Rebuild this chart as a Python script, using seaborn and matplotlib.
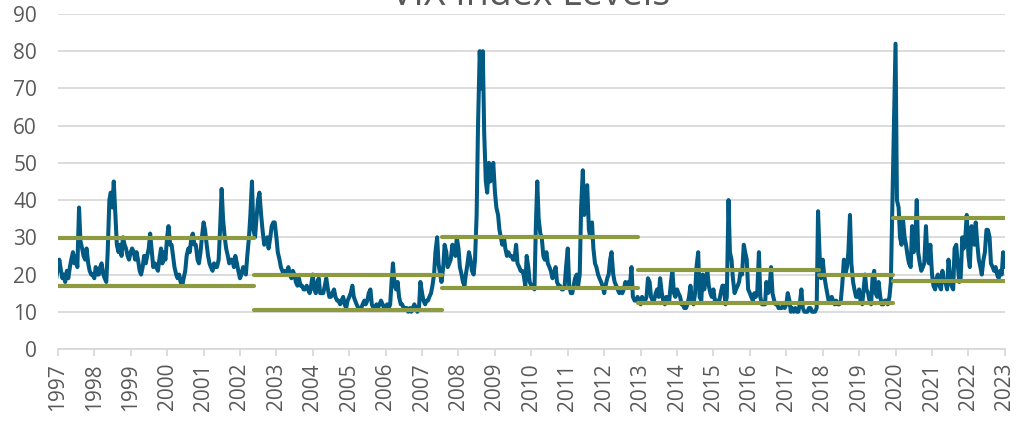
import pandas as pd
import seaborn as sns
import matplotlib.pyplot as plt

# semi-monthly VIX readings, one row per 24 readings.
# the chart's own timeline runs about 2.5 months ahead of the calendar,
# so the series is placed from mid-Oct 1996 to line up with its year ticks
vix_start = "1996-10-15"
vix_rows = [
    [21, 19, 20, 18, 19, 22, 24, 21, 19, 20, 18, 21, 19, 22, 24, 26, 23, 25, 22, 38, 29, 27, 25, 24],
    [27, 23, 21, 20, 20, 19, 22, 20, 20, 22, 23, 20, 19, 18, 26, 40, 42, 38, 45, 36, 28, 26, 28, 25],
    [30, 28, 27, 25, 24, 26, 27, 26, 24, 26, 24, 21, 20, 22, 25, 23, 25, 27, 31, 26, 22, 23, 22, 21],
    [24, 27, 23, 26, 24, 30, 33, 28, 28, 25, 22, 20, 19, 20, 18, 17, 19, 21, 25, 27, 26, 30, 31, 28],
    [28, 24, 23, 26, 30, 34, 32, 28, 25, 23, 22, 21, 23, 22, 22, 24, 32, 43, 35, 30, 27, 25, 23, 24],
    [24, 22, 25, 23, 21, 19, 20, 22, 21, 20, 25, 30, 36, 45, 32, 30, 35, 40, 42, 36, 32, 28, 29, 30],
    [27, 30, 33, 34, 34, 30, 26, 24, 22, 21, 20, 21, 20, 22, 20, 19, 21, 20, 18, 17, 19, 17, 17, 16],
    [16, 17, 16, 15, 17, 20, 16, 15, 18, 19, 15, 15, 15, 17, 19, 16, 14, 14, 15, 16, 14, 13, 13, 12],
    [13, 14, 12, 11, 13, 14, 15, 17, 14, 13, 12, 11, 11, 11, 12, 13, 12, 13, 15, 16, 12, 11, 11, 12],
    [11, 12, 13, 12, 11, 11, 12, 11, 12, 18, 23, 17, 16, 18, 14, 12, 12, 11, 11, 11, 10, 11, 10, 11],
    [12, 11, 10, 11, 18, 15, 13, 12, 13, 13, 14, 15, 17, 20, 26, 30, 23, 20, 18, 22, 28, 26, 22, 23],
    [24, 28, 26, 25, 30, 27, 22, 20, 18, 17, 20, 23, 26, 24, 21, 20, 24, 36, 60, 80, 70, 80, 58, 45],
    [42, 50, 45, 47, 50, 42, 38, 36, 32, 30, 28, 30, 27, 25, 26, 25, 25, 24, 24, 28, 23, 22, 21, 21],
    [20, 17, 25, 22, 18, 17, 17, 16, 33, 45, 35, 31, 30, 25, 24, 26, 23, 22, 21, 19, 20, 22, 18, 17],
    [17, 16, 16, 17, 22, 27, 17, 15, 15, 17, 19, 20, 17, 20, 38, 48, 36, 42, 44, 32, 30, 34, 27, 23],
    [22, 20, 19, 18, 17, 15, 17, 19, 20, 24, 26, 20, 18, 17, 16, 15, 16, 15, 16, 18, 17, 18, 17, 22],
    [14, 13, 13, 14, 13, 12, 14, 13, 13, 14, 19, 18, 14, 13, 13, 15, 16, 14, 19, 15, 13, 12, 14, 13],
    [13, 18, 21, 15, 14, 16, 15, 14, 12, 12, 11, 11, 12, 14, 17, 13, 12, 15, 22, 26, 14, 13, 20, 16],
    [19, 21, 17, 15, 14, 16, 13, 13, 13, 13, 15, 17, 17, 12, 14, 40, 26, 24, 19, 15, 16, 17, 18, 21],
    [20, 28, 26, 24, 16, 15, 14, 13, 15, 14, 15, 26, 14, 12, 12, 12, 18, 15, 16, 22, 15, 13, 12, 12],
    [11, 11, 11, 12, 11, 12, 15, 13, 10, 11, 10, 11, 10, 10, 12, 16, 11, 10, 10, 10, 11, 11, 10, 10],
    [10, 11, 37, 25, 19, 24, 20, 17, 15, 13, 13, 14, 13, 12, 13, 12, 12, 13, 17, 24, 20, 22, 26, 36],
    [23, 18, 16, 14, 14, 16, 13, 12, 16, 20, 16, 15, 13, 12, 19, 21, 15, 14, 18, 14, 12, 12, 13, 13],
    [12, 14, 18, 40, 60, 82, 40, 38, 30, 28, 35, 30, 28, 25, 23, 22, 33, 26, 28, 40, 26, 23, 21, 22],
    [23, 33, 25, 23, 28, 20, 17, 16, 19, 20, 17, 16, 21, 18, 18, 16, 24, 20, 17, 16, 27, 28, 23, 18],
    [19, 30, 27, 30, 36, 25, 22, 33, 30, 28, 34, 28, 24, 22, 20, 24, 26, 32, 32, 30, 23, 22, 21, 22],
    [20, 19, 21, 20, 26, 22],
]

# regime bands: start, end, low, high
band_start = ["1997-01-01", "2002-05-20", "2007-07-20", "2012-12-10", "2017-11-20", "2019-12-10"]
band_end = ["2002-05-20", "2007-07-20", "2012-12-10", "2017-11-20", "2019-12-10", "2023-01-01"]
band_low = [16.9, 10.5, 16.5, 12.3, 12.3, 18.3]
band_high = [29.9, 19.9, 30.0, 21.1, 19.9, 35.3]

years = [str(y) for y in range(1997, 2024)]

values = [v for row in vix_rows for v in row]
dates = pd.date_range(vix_start, periods=len(values), freq="SMS")
df = pd.DataFrame({"date": dates, "vix": values})

sns.set_style("white")
plt.rcParams["font.family"] = ["Open Sans", "DejaVu Sans"]

fig = plt.figure(figsize=(10.16, 4.22), dpi=100)
ax = fig.add_axes([0.057, 0.173, 0.932, 0.794])

sns.lineplot(x="date", y="vix", data=df, ax=ax, color="#005a84", linewidth=2.9)

for s, e, lo, hi in zip(band_start, band_end, band_low, band_high):
    xs = [pd.Timestamp(s), pd.Timestamp(e)]
    ax.plot(xs, [lo, lo], color="#8e9a3f", linewidth=3, solid_capstyle="round", zorder=3)
    ax.plot(xs, [hi, hi], color="#8e9a3f", linewidth=3, solid_capstyle="round", zorder=3)

ax.set_ylim(0, 90)
ax.set_yticks(range(0, 91, 10))
ax.set_xlim(pd.Timestamp("1997-01-01"), pd.Timestamp("2023-01-01"))
ax.set_xticks([pd.Timestamp(y + "-01-01") for y in years])
ax.set_xticklabels(years, rotation=90)
ax.set_xlabel("")
ax.set_ylabel("")

ax.grid(axis="y", color="#d9d9d9", linewidth=1.3)
ax.set_axisbelow(True)
for side in ["top", "right", "left"]:
    ax.spines[side].set_visible(False)
ax.spines["bottom"].set_color("#d9d9d9")
ax.spines["bottom"].set_linewidth(1.3)

ax.tick_params(axis="y", length=0, pad=15, labelsize=15, labelcolor="#595959")
ax.tick_params(axis="x", length=5, width=1.3, color="#d9d9d9", pad=5,
               labelsize=15, labelcolor="#595959", bottom=True)

fig.text(0.522, 0.988, "VIX Index Levels", ha="center", va="baseline",
         fontsize=27, color="#595959")

fig.savefig("out.png", dpi=100)
